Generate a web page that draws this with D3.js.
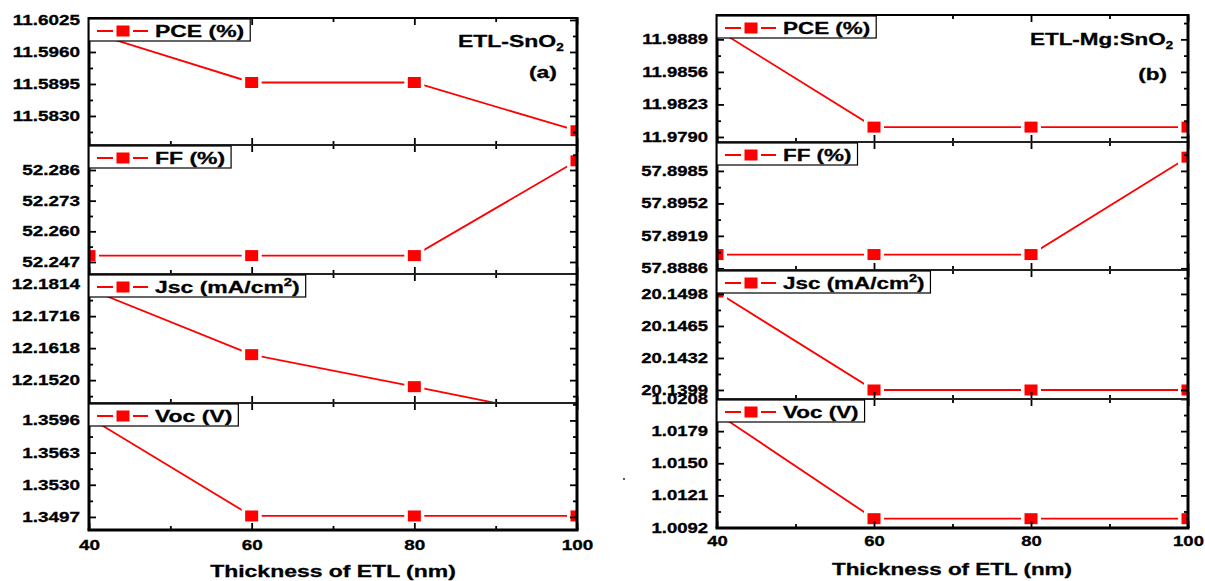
<!DOCTYPE html>
<html>
<head>
<meta charset="utf-8">
<script src="https://cdn.jsdelivr.net/npm/d3@7"></script>
<style>
  html, body { margin: 0; padding: 0; background: #fff; }
  svg { display: block; font-family: "Liberation Sans", Arial, sans-serif; font-weight: bold; }
  svg text { stroke: #000; stroke-width: 0.3px; }
</style>
</head>
<body>
<svg id="chart" width="1205" height="581"></svg>
<script>
// ETL thickness (nm)
const thickness = [40, 60, 80, 100];
const xTickLabels = ["40", "60", "80", "100"];
const xMinorTicks = [50, 70, 90];

// (a) ETL-SnO2 device
const pceSnO2 = [11.6001, 11.5898, 11.5898, 11.5800];
const ffSnO2  = [52.2497, 52.2497, 52.2497, 52.2899];
const jscSnO2 = [12.1799, 12.1598, 12.1500, 12.1400];
const vocSnO2 = [1.3599, 1.3498, 1.3498, 1.3498];

// (b) ETL-Mg:SnO2 device
const pceMg = [11.9899, 11.9800, 11.9800, 11.9800];
const ffMg  = [57.8900, 57.8900, 57.8900, 57.8999];
const jscMg = [20.1500, 20.1399, 20.1399, 20.1399];
const vocMg = [1.0195, 1.0100, 1.0100, 1.0100];

// y tick labels
const pceTicksSnO2 = ["11.6025", "11.5960", "11.5895", "11.5830"];
const ffTicksSnO2  = ["52.286", "52.273", "52.260", "52.247"];
const jscTicksSnO2 = ["12.1814", "12.1716", "12.1618", "12.1520"];
const vocTicksSnO2 = ["1.3596", "1.3563", "1.3530", "1.3497"];

const pceTicksMg = ["11.9889", "11.9856", "11.9823", "11.9790"];
const ffTicksMg  = ["57.8985", "57.8952", "57.8919", "57.8886"];
const jscTicksMg = ["20.1498", "20.1465", "20.1432", "20.1399"];
const vocTicksMg = ["1.0208", "1.0179", "1.0150", "1.0121", "1.0092"];

// y axis ranges [min, max]
const pceRangeSnO2 = [11.5771, 11.6029];
const ffRangeSnO2  = [52.2419, 52.2966];
const jscRangeSnO2 = [12.1450, 12.1845];
const vocRangeSnO2 = [1.34836, 1.36139];

const pceRangeMg = [11.97849, 11.99137];
const ffRangeMg  = [57.88843, 57.90144];
const jscRangeMg = [20.13897, 20.15227];
const vocRangeMg = [1.00916, 1.02080];

const legendLabels = ["PCE (%)", "FF (%)", "Jsc (mA/cm", "Voc (V)"];

const RED = "#ff0000";
const svg = d3.select("#chart");
const defs = svg.append("defs");

const panels = [
  {
    key: "a", x0: 89, x1: 577, S: 1.35,
    rows: [[18, 145], [145, 274], [274, 403], [403, 530]],
    series: [pceSnO2, ffSnO2, jscSnO2, vocSnO2],
    ticks: [pceTicksSnO2, ffTicksSnO2, jscTicksSnO2, vocTicksSnO2],
    ranges: [pceRangeSnO2, ffRangeSnO2, jscRangeSnO2, vocRangeSnO2],
    title: ["ETL-SnO", "2"], titleX: 458, titleY: 47,
    tag: "(a)", tagX: 557, tagY: 78,
    xTitleX: 333, xTitleY: 577, xLabelPad: 10
  },
  {
    key: "b", x0: 717, x1: 1188, S: 1.32,
    rows: [[15, 142], [142, 270], [270, 399], [399, 528]],
    series: [pceMg, ffMg, jscMg, vocMg],
    ticks: [pceTicksMg, ffTicksMg, jscTicksMg, vocTicksMg],
    ranges: [pceRangeMg, ffRangeMg, jscRangeMg, vocRangeMg],
    title: ["ETL-Mg:SnO", "2"], titleX: 1030, titleY: 45,
    tag: "(b)", tagX: 1167, tagY: 80,
    xTitleX: 952, xTitleY: 575, xLabelPad: 8.5
  }
];

function styleAxis(g) {
  g.select(".domain").remove();
  g.attr("font-family", null).attr("font-size", null).attr("color", "#000");
  g.selectAll(".tick line").attr("stroke-width", 1.8);
  return g;
}

function minorTicks(majors, domain) {
  const sorted = majors.slice().sort((a, b) => a - b);
  const step = sorted[1] - sorted[0];
  const out = [];
  for (let i = 0; i < sorted.length; i++) {
    out.push(sorted[i] - step / 2);
  }
  out.push(sorted[sorted.length - 1] + step / 2);
  return out.filter(v => v >= domain[0] && v <= domain[1]);
}

function drawMarkers(g, pts, x, y) {
  g.selectAll(null).data(pts).join("rect")
    .attr("x", d => x(d.t) - 10).attr("y", d => y(d.v) - 8.5)
    .attr("width", 20).attr("height", 17).attr("fill", "#fff");
  g.selectAll(null).data(pts).join("rect")
    .attr("x", d => x(d.t) - 6.5).attr("y", d => y(d.v) - 5.5)
    .attr("width", 13).attr("height", 11).attr("fill", RED);
}

panels.forEach(p => {
  const pg = svg.append("g").attr("class", "panel-" + p.key);
  const x = d3.scaleLinear().domain([40, 100]).range([p.x0, p.x1]);
  const S = p.S;

  p.rows.forEach(([top, bottom], r) => {
    const domain = p.ranges[r];
    const y = d3.scaleLinear().domain(domain).range([bottom, top]);
    const pts = thickness.map((t, i) => ({ t, v: p.series[r][i] }));

    const clipId = `clip-${p.key}-${r}`;
    defs.append("clipPath").attr("id", clipId).append("rect")
      .attr("x", p.x0).attr("y", top)
      .attr("width", p.x1 - p.x0).attr("height", bottom - top);

    const plot = pg.append("g").attr("clip-path", `url(#${clipId})`);
    plot.append("path").datum(pts)
      .attr("d", d3.line().x(d => x(d.t)).y(d => y(d.v)))
      .attr("fill", "none").attr("stroke", RED).attr("stroke-width", 1.8);
    drawMarkers(plot, pts, x, y);

    // y axes
    const majors = p.ticks[r].map(Number);
    const minors = minorTicks(majors, domain);

    const left = pg.append("g").attr("transform", `translate(${p.x0},0)`)
      .call(d3.axisLeft(y).tickValues(majors).tickSize(-7).tickPadding(9 / S)
        .tickFormat((d, i) => p.ticks[r][i]));
    styleAxis(left);
    left.selectAll("text").attr("font-size", 14).attr("fill", "#000")
      .attr("transform", `scale(${S},1)`);
    styleAxis(pg.append("g").attr("transform", `translate(${p.x0},0)`)
      .call(d3.axisLeft(y).tickValues(minors).tickSize(-4).tickFormat("")));

    styleAxis(pg.append("g").attr("transform", `translate(${p.x1},0)`)
      .call(d3.axisRight(y).tickValues(majors).tickSize(-7).tickFormat("")));
    styleAxis(pg.append("g").attr("transform", `translate(${p.x1},0)`)
      .call(d3.axisRight(y).tickValues(minors).tickSize(-4).tickFormat("")));

    // x axes (top and bottom of each row)
    const xMaj = xTickLabels.map(Number);
    styleAxis(pg.append("g").attr("transform", `translate(0,${top})`)
      .call(d3.axisTop(x).tickValues(xMaj).tickSize(-7).tickFormat("")));
    styleAxis(pg.append("g").attr("transform", `translate(0,${top})`)
      .call(d3.axisTop(x).tickValues(xMinorTicks).tickSize(-4).tickFormat("")));

    const isLast = r === p.rows.length - 1;
    const bottomAxis = pg.append("g").attr("transform", `translate(0,${bottom})`)
      .call(d3.axisBottom(x).tickValues(xMaj).tickSize(-7).tickPadding(p.xLabelPad)
        .tickFormat((d, i) => isLast ? xTickLabels[i] : ""));
    styleAxis(bottomAxis);
    bottomAxis.selectAll("text").attr("font-size", 14).attr("fill", "#000")
      .attr("transform", `scale(${S},1)`);
    styleAxis(pg.append("g").attr("transform", `translate(0,${bottom})`)
      .call(d3.axisBottom(x).tickValues(xMinorTicks).tickSize(-4).tickFormat("")));
  });

  // frame
  const first = p.rows[0][0];
  const last = p.rows[p.rows.length - 1][1];
  const frame = pg.append("g").attr("stroke", "#000").attr("fill", "none");
  frame.append("line").attr("x1", p.x0 - 1).attr("x2", p.x1 + 1).attr("y1", first).attr("y2", first).attr("stroke-width", 2);
  p.rows.slice(1).forEach(([top]) => {
    frame.append("line").attr("x1", p.x0).attr("x2", p.x1).attr("y1", top).attr("y2", top)
      .attr("stroke-width", 2).attr("stroke", "#222");
  });
  frame.append("line").attr("x1", p.x0 - 1.5).attr("x2", p.x1 + 1.5).attr("y1", last).attr("y2", last).attr("stroke-width", 3);
  frame.append("line").attr("x1", p.x0).attr("x2", p.x0).attr("y1", first - 1).attr("y2", last).attr("stroke-width", 3);
  frame.append("line").attr("x1", p.x1).attr("x2", p.x1).attr("y1", first - 1).attr("y2", last).attr("stroke-width", 3);

  // legends
  p.rows.forEach(([top], r) => {
    const ly = top + 1;
    const bx = p.x0;
    const lg = pg.append("g");
    const box = lg.append("rect").attr("x", bx).attr("y", ly).attr("height", 22)
      .attr("fill", "#fff").attr("stroke", "#000").attr("stroke-width", 1.2);
    lg.append("line").attr("x1", bx + 8).attr("x2", bx + 59).attr("y1", ly + 12).attr("y2", ly + 12)
      .attr("stroke", RED).attr("stroke-width", 1.8);
    lg.append("rect").attr("x", bx + 34 - 10).attr("y", ly + 12 - 8).attr("width", 20).attr("height", 16).attr("fill", "#fff");
    lg.append("rect").attr("x", bx + 34 - 6.5).attr("y", ly + 12 - 5.5).attr("width", 13).attr("height", 11).attr("fill", RED);
    const t = lg.append("text").attr("transform", `translate(${bx + 66},${ly + 18}) scale(${S},1)`)
      .attr("font-size", 17).attr("fill", "#000").text(legendLabels[r]);
    if (r === 2) {
      t.append("tspan").attr("font-size", 11).attr("dy", -7).text("2");
      t.append("tspan").attr("font-size", 17).attr("dy", 7).text(")");
    }
    const w = t.node().getComputedTextLength() * S;
    box.attr("width", 66 + w + 6);
  });

  // panel title and tag
  const tt = pg.append("text").attr("transform", `translate(${p.titleX},${p.titleY}) scale(${S},1)`)
    .attr("font-size", 17).attr("fill", "#000").text(p.title[0]);
  tt.append("tspan").attr("font-size", 10).attr("dy", 4).text(p.title[1]);
  pg.append("text").attr("transform", `translate(${p.tagX},${p.tagY}) scale(${S},1)`)
    .attr("font-size", 17).attr("fill", "#000").attr("text-anchor", "end").text(p.tag);

  // x axis title
  pg.append("text").attr("transform", `translate(${p.xTitleX},${p.xTitleY}) scale(${S},1)`)
    .attr("font-size", 17).attr("fill", "#000").attr("text-anchor", "middle")
    .text("Thickness of ETL (nm)");
});

// small stray dot between the panels
svg.append("circle").attr("cx", 624).attr("cy", 479).attr("r", 1.1).attr("fill", "#333");
</script>
</body>
</html>
